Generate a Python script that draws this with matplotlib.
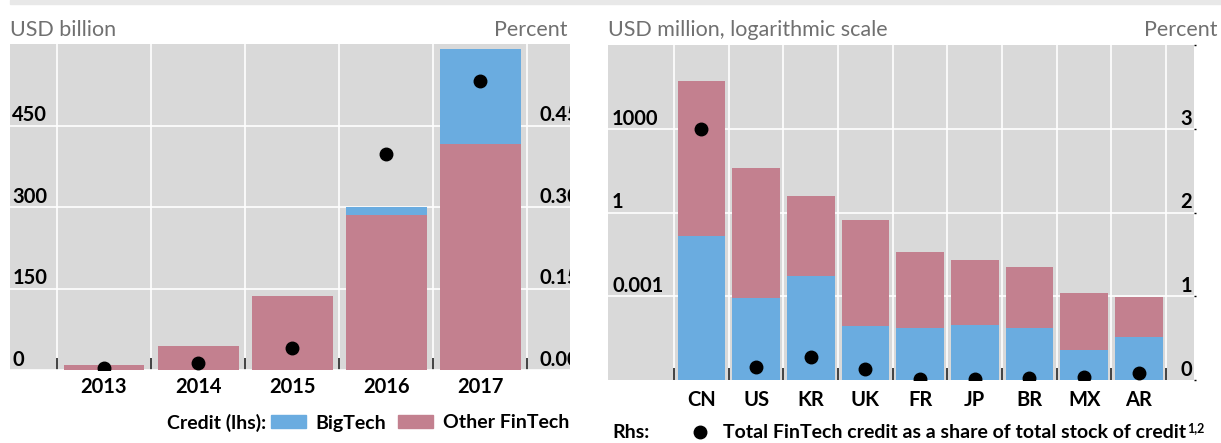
import numpy as np
import matplotlib.pyplot as plt
from matplotlib.patches import Patch, Rectangle
from matplotlib.lines import Line2D
from matplotlib.transforms import blended_transform_factory, offset_copy

plt.rcParams['font.family'] = ['Lato', 'DejaVu Sans']

# left panel: FinTech credit by year, USD bn
years = ['2013', '2014', '2015', '2016', '2017']
bigtech_year = [0.0, 0.0, 0.0, 15.5, 173.5]
other_year = [9, 45, 136, 285, 416.5]
share_year = [0.003, 0.012, 0.040, 0.397, 0.531]

# right panel: FinTech credit by country, USD mn (log)
countries = ['CN', 'US', 'KR', 'UK', 'FR', 'JP', 'BR', 'MX', 'AR']
bigtech_cty = [0.15, 9e-4, 0.0055, 8.7e-5, 7e-5, 9e-5, 7.2e-5, 1.2e-5, 3.6e-5]
other_cty = [51300, 39.8, 3.97, 0.55, 0.040, 0.020, 0.011, 0.0013, 0.00088]
share_cty = [3.0, 0.16, 0.28, 0.13, 0.01, 0.01, 0.02, 0.04, 0.08]

lhs_ticks = [0, 150, 300, 450]
rhs_ticks_left = [0, 0.15, 0.30, 0.45]
log_ticks = [1e-3, 1, 1e3]
log_labels = ['0.001', '1', '1000']
rhs_ticks_right = [0, 1, 2, 3]

BLUE = '#6aace0'
PINK = '#c3808f'
BG = '#d9d9d9'
GREY_TXT = '#707070'
FS = 14.5
FW = 'bold'

W, H = 1221, 443
fig = plt.figure(figsize=(W / 100, H / 100), dpi=100)


def px_axes(x0, y0, x1, y1):
    return fig.add_axes([x0 / W, 1 - y1 / H, (x1 - x0) / W, (y1 - y0) / H])


def style(ax, n, pad):
    ax.set_facecolor(BG)
    for s in ax.spines.values():
        s.set_visible(False)
    ax.set_xticks(range(n))
    ax.set_xticks(np.arange(n + 1) - 0.5, minor=True)
    ax.tick_params(axis='x', which='major', length=0, pad=pad, labelsize=FS)
    ax.tick_params(axis='x', which='minor', direction='in', length=9,
                   width=1.3, color='#333333')
    ax.tick_params(axis='y', which='both', length=0, labelleft=False)
    ax.grid(True, which='minor', axis='x', color='white', lw=1.2)
    ax.grid(True, which='major', axis='y', color='white', lw=1.2)
    ax.set_axisbelow(True)


def inside_label(ax, xfrac, y, txt, ha, dy=3):
    # tick labels sit inside the plot, just above their gridline
    tr = blended_transform_factory(ax.transAxes, ax.transData)
    tr = offset_copy(tr, fig=fig, x=0, y=dy, units='points')
    t = ax.text(xfrac, y, txt, transform=tr, ha=ha, va='baseline',
                fontsize=FS, fontweight=FW, color='black', zorder=5)
    t.set_clip_on(True)
    t.set_clip_box(ax.bbox)


# ---- left panel
ax1 = px_axes(10, 44, 570, 370)
x = np.arange(len(years))
ax1.bar(x, other_year, width=0.86, color=PINK, zorder=2)
ax1.bar(x, bigtech_year, bottom=other_year, width=0.86, color=BLUE, zorder=2)
style(ax1, len(years), 5)
ax1.set_xticklabels(years, fontweight=FW)
ax1.set_xlim(-1.0, 4.954)
ax1.set_ylim(0, 600)
ax1.set_yticks(lhs_ticks)
for v in lhs_ticks:
    inside_label(ax1, 0.004, v, str(v), 'left')

ax1r = ax1.twinx()
ax1r.set_ylim(0, 0.6)
for s in ax1r.spines.values():
    s.set_visible(False)
ax1r.tick_params(axis='y', length=0, labelright=False)
ax1r.plot(x, share_year, 'o', color='black', ms=9, zorder=4, clip_on=True)
for v in rhs_ticks_left:
    inside_label(ax1r, 0.946, v, f'{v:.2f}', 'left')

# ---- right panel
ax2 = px_axes(608, 45, 1194, 380)
ax2.set_yscale('log')
xc = np.arange(len(countries))
ax2.bar(xc, bigtech_cty, width=0.87, color=BLUE, zorder=2)
ax2.bar(xc, other_cty, bottom=bigtech_cty, width=0.87, color=PINK, zorder=2)
ax2.set_xlim(-1.71, 9.01)
ax2.set_ylim(1e-6, 1e6)
ax2.set_yticks(log_ticks)
ax2.minorticks_off()
style(ax2, len(countries), 7)
ax2.set_xticklabels(countries, fontweight=FW)
for v, lab in zip(log_ticks, log_labels):
    inside_label(ax2, 0.007, v, lab, 'left')

ax2r = ax2.twinx()
ax2r.set_ylim(0, 4)
for s in ax2r.spines.values():
    s.set_visible(False)
ax2r.set_yticks([0, 1, 2, 3, 4])
ax2r.tick_params(axis='y', length=1.5, width=1, color='black', labelright=False)
ax2r.plot(xc, share_cty, 'o', color='black', ms=9, zorder=4, clip_on=True)
for v in rhs_ticks_right:
    inside_label(ax2r, 0.9966, v, str(v), 'right')

# ---- titles
TFS = 15.5
fig.text(10 / W, 1 - 30 / H, 'USD billion', fontsize=TFS, color=GREY_TXT, va='center')
fig.text(567 / W, 1 - 30 / H, 'Percent', fontsize=TFS, color=GREY_TXT,
         va='center', ha='right')
fig.text(608 / W, 1 - 30 / H, 'USD million, logarithmic scale', fontsize=TFS,
         color=GREY_TXT, va='center')
fig.text(1218 / W, 1 - 30 / H, 'Percent', fontsize=TFS, color=GREY_TXT,
         va='center', ha='right')

# thin band at the top
fig.patches.append(Rectangle((10 / W, 1 - 4 / H), 1 - 10 / W, 4 / H,
                             transform=fig.transFigure, color='#e8e8e8'))

# ---- legends
LFS = 14
fig.text(266 / W, 1 - 423 / H, 'Credit (lhs):', fontsize=LFS, fontweight=FW,
         ha='right', va='center')
fig.legend(handles=[Patch(color=BLUE, label='BigTech'),
                    Patch(color=PINK, label='Other FinTech')],
           loc='center left', bbox_to_anchor=(271 / W, 1 - 423 / H), ncol=2,
           frameon=False, prop={'size': LFS, 'weight': FW}, handlelength=1.8,
           handleheight=0.65, handletextpad=0.5, columnspacing=0.6,
           borderpad=0, borderaxespad=0)

fig.text(612 / W, 1 - 433 / H, 'Rhs:', fontsize=LFS, fontweight=FW,
         ha='left', va='center')
leg2 = fig.legend(handles=[Line2D([], [], marker='o', ls='none', color='black', ms=9,
                                  label='Total FinTech credit as a share of total stock of credit')],
                  loc='center left', bbox_to_anchor=(690 / W, 1 - 433 / H),
                  frameon=False, prop={'size': LFS, 'weight': FW}, handlelength=1.0,
                  handletextpad=0.7, borderpad=0, borderaxespad=0)

# superscript note right after the legend text (window extent is in pixels)
fig.canvas.draw()
bb = leg2.get_texts()[0].get_window_extent()
fig.text((bb.x1 + 1) / W, (bb.y0 + 0.45 * bb.height) / H, '1,2', fontsize=9,
         fontweight=FW, ha='left', va='bottom')

fig.savefig('out.png', dpi=100)
